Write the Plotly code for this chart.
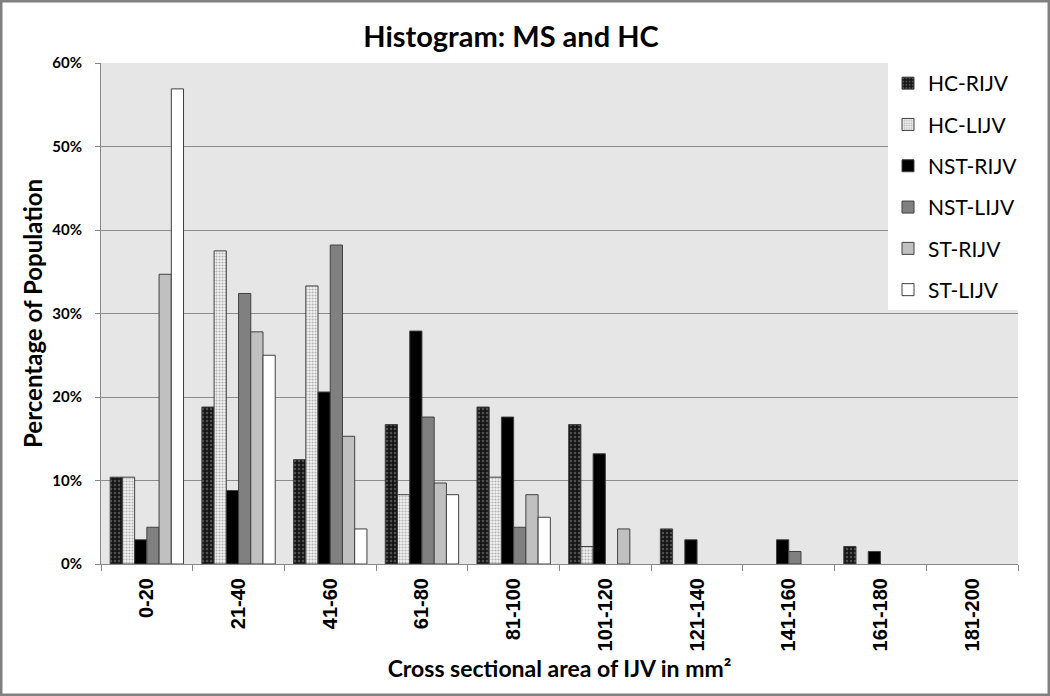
import plotly.graph_objects as go

categories = ["0-20", "21-40", "41-60", "61-80", "81-100", "101-120",
              "121-140", "141-160", "161-180", "181-200"]
hc_rijv = [10.4, 18.8, 12.5, 16.7, 18.8, 16.7, 4.2, 0, 2.1, 0]
hc_lijv = [10.4, 37.5, 33.3, 8.3, 10.4, 2.1, 0, 0, 0, 0]
nst_rijv = [2.9, 8.8, 20.6, 27.9, 17.6, 13.2, 2.9, 2.9, 1.5, 0]
nst_lijv = [4.4, 32.4, 38.2, 17.6, 4.4, 0, 0, 1.5, 0, 0]
st_rijv = [34.7, 27.8, 15.3, 9.7, 8.3, 4.2, 0, 0, 0, 0]
st_lijv = [56.9, 25.0, 4.2, 8.3, 5.6, 0, 0, 0, 0, 0]
series_names = ["HC-RIJV", "HC-LIJV", "NST-RIJV", "NST-LIJV", "ST-RIJV", "ST-LIJV"]
series_values = [hc_rijv, hc_lijv, nst_rijv, nst_lijv, st_rijv, st_lijv]
y_ticks = [0, 10, 20, 30, 40, 50, 60]
y_tick_labels = ["0%", "10%", "20%", "30%", "40%", "50%", "60%"]

styles = [
    dict(color="#1a1a1a", pattern=dict(shape=".", bgcolor="#151515", fgcolor="#8a8a8a", size=4, solidity=0.3)),
    dict(color="#ffffff", pattern=dict(shape=".", bgcolor="#f2f2f2", fgcolor="#707070", size=3, solidity=0.4)),
    dict(color="#000000"),
    dict(color="#808080"),
    dict(color="#c0c0c0"),
    dict(color="#ffffff"),
]

FONT = "Lato, 'Open Sans', sans-serif"
TICKFONT = "Liberation Sans, Arial, sans-serif"
fig = go.Figure()
for i, (name, vals) in enumerate(zip(series_names, series_values)):
    st = styles[i]
    marker = dict(color=st["color"],
                  line=dict(color="#404040", width=[1 if v > 0 else 0 for v in vals]))
    if "pattern" in st:
        marker["pattern"] = dict(shape=st["pattern"]["shape"], bgcolor=st["pattern"]["bgcolor"],
                                 fgcolor=st["pattern"]["fgcolor"], size=st["pattern"]["size"],
                                 solidity=st["pattern"]["solidity"], fillmode="overlay")
    fig.add_trace(go.Bar(name=name, x=categories, y=vals, marker=marker, legendgroup=name))

W, H = 1050, 696
L, R, T, B = 101, 32, 63, 132
pw, ph = W - L - R, H - T - B

def px_x(p):
    return (p - L) / pw

def px_y(p):
    return (H - B - p) / ph

fig.update_layout(
    width=W, height=H, autosize=False,
    margin=dict(l=L, r=R, t=T, b=B),
    paper_bgcolor="white",
    plot_bgcolor="#e6e6e6",
    barmode="group",
    bargap=0.2,
    bargroupgap=0,
    font=dict(family=FONT, color="#000000"),
    title=dict(text="<b>Histogram: MS and HC</b>", x=511 / W, xanchor="center", xref="container",
               y=1 - 37 / H, yanchor="middle", font=dict(size=29, family=FONT)),
    xaxis=dict(
        type="category",
        tickson="boundaries",
        ticks="outside", ticklen=6, tickcolor="#888888",
        tickangle=-90,
        tickfont=dict(size=20, family=TICKFONT),
        ticktext=[f"<b>{c}</b>" for c in categories], tickvals=categories,
        ticklabelstandoff=5,
        showline=True, linecolor="#888888", linewidth=1,
        showgrid=False,
        title=dict(text="<b>Cross sectional area of IJV in mm²</b>", font=dict(size=23, family=FONT), standoff=10),
    ),
    yaxis=dict(
        range=[0, 60],
        tickvals=y_ticks, ticktext=[f"<b>{t}</b>" for t in y_tick_labels],
        tickfont=dict(size=15, family=FONT),
        ticks="outside", ticklen=5, tickcolor="#888888",
        ticklabelstandoff=10,
        showline=True, linecolor="#888888", linewidth=1,
        showgrid=True, gridcolor="#8c8c8c", gridwidth=1,
        zeroline=False,
        title=dict(text="<b>Percentage of Population</b>", font=dict(size=24, family=FONT), standoff=2),
    ),
    legend=dict(
        x=px_x(888), xanchor="left", y=1, yanchor="top",
        bgcolor="white", borderwidth=0,
        font=dict(size=21, family=FONT),
        tracegroupgap=11,
        itemwidth=30,
    ),
    shapes=[
        dict(type="rect", xref="paper", yref="paper",
             x0=px_x(1), x1=px_x(W - 1), y0=px_y(H - 1), y1=px_y(1),
             line=dict(color="#808080", width=3), fillcolor="rgba(0,0,0,0)", layer="above"),
    ],
)

fig.write_html(
    "out.html",
    config={"responsive": False, "displayModeBar": False},
    default_width="1050px", default_height="696px",
    post_script="document.body.style.margin='0px';document.body.style.overflow='hidden';",
)
